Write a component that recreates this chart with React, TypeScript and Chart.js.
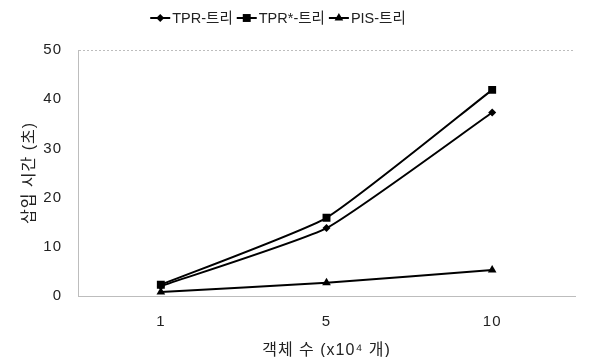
import React, { useEffect, useRef } from "react";
import { Chart, registerables } from "chart.js";

Chart.register(...registerables);

// Object counts (x10^4) on the category axis
const categories: string[] = ["1", "5", "10"];

// Insertion time in seconds per index structure
const tprTree: number[] = [2.0, 13.8, 37.3];
const tprStarTree: number[] = [2.3, 15.9, 41.9];
const pisTree: number[] = [0.8, 2.7, 5.3];

const seriesNames: string[] = ["TPR-트리", "TPR*-트리", "PIS-트리"];

const Y_MAX = 50;
const Y_STEP = 10;

const FONT_FAMILY = "'Liberation Sans', Arial, 'Noto Sans CJK KR', sans-serif";
const TEXT_COLOR = "#222";
const FRAME_COLOR = "#bdbdbd";

type Marker = "rectRot" | "rect" | "triangle";

function drawMarker(ctx: CanvasRenderingContext2D, kind: Marker, x: number, y: number, r: number) {
  ctx.beginPath();
  if (kind === "rectRot") {
    ctx.moveTo(x - r, y);
    ctx.lineTo(x, y - r);
    ctx.lineTo(x + r, y);
    ctx.lineTo(x, y + r);
  } else if (kind === "rect") {
    const s = r * Math.SQRT1_2;
    ctx.rect(x - s, y - s, 2 * s, 2 * s);
  } else {
    ctx.moveTo(x, y - r);
    ctx.lineTo(x + r * 0.866, y + r / 2);
    ctx.lineTo(x - r * 0.866, y + r / 2);
  }
  ctx.closePath();
  ctx.fill();
}

// Legend drawn as line + marker + label, centred on a fixed x position
const lineLegend = {
  id: "lineLegend",
  afterDraw(chart: any, _args: any, opts: any) {
    const ctx: CanvasRenderingContext2D = chart.ctx;
    const datasets = chart.data.datasets;
    ctx.save();
    (ctx as any).letterSpacing = "0px";
    ctx.font = `${opts.fontSize}px ${FONT_FAMILY}`;
    ctx.textBaseline = "middle";
    ctx.textAlign = "left";
    const sampleW = opts.sampleWidth;
    const gapText = opts.gapText;
    const gapItem = opts.gapItem;
    const widths = datasets.map((d: any) => sampleW + gapText + ctx.measureText(d.label).width);
    const total = widths.reduce((a: number, b: number) => a + b, 0) + gapItem * (datasets.length - 1);
    let x = opts.centerX - total / 2;
    const y = opts.y;
    datasets.forEach((d: any, i: number) => {
      ctx.strokeStyle = d.borderColor;
      ctx.fillStyle = d.pointBackgroundColor;
      ctx.lineWidth = d.borderWidth;
      ctx.beginPath();
      ctx.moveTo(x, y);
      ctx.lineTo(x + sampleW, y);
      ctx.stroke();
      drawMarker(ctx, d.pointStyle, x + sampleW / 2, y, d.pointRadius);
      ctx.fillStyle = TEXT_COLOR;
      ctx.fillText(d.label, x + sampleW + gapText, y + 1);
      x += widths[i] + gapItem;
    });
    ctx.restore();
  },
};

// Slightly wider letter spacing for the axis text
const axisSpacing = {
  id: "axisSpacing",
  beforeDraw(chart: any) {
    (chart.ctx as any).letterSpacing = "1px";
  },
  afterDatasetsDraw(chart: any) {
    (chart.ctx as any).letterSpacing = "0px";
  },
};

export default function App() {
  const canvasRef = useRef<HTMLCanvasElement | null>(null);

  useEffect(() => {
    if (!canvasRef.current) return;
    const common = {
      borderColor: "#000",
      pointBackgroundColor: "#000",
      pointBorderColor: "#000",
      borderWidth: 2,
      pointBorderWidth: 0,
      tension: 0.15,
      fill: false,
    };
    const chart = new Chart(canvasRef.current, {
      type: "line",
      data: {
        labels: categories,
        datasets: [
          { ...common, label: seriesNames[0], data: tprTree, pointStyle: "rectRot", pointRadius: 4 },
          { ...common, label: seriesNames[1], data: tprStarTree, pointStyle: "rect", pointRadius: 5.6 },
          { ...common, label: seriesNames[2], data: pisTree, pointStyle: "triangle", pointRadius: 5 },
        ] as any,
      },
      options: {
        animation: false,
        responsive: true,
        maintainAspectRatio: false,
        layout: { padding: { top: 50, right: 36, bottom: 0, left: 0 } },
        plugins: {
          legend: { display: false },
          tooltip: { enabled: false },
          lineLegend: { centerX: 278, y: 18, fontSize: 14.5, sampleWidth: 20, gapText: 2, gapItem: 4 },
        } as any,
        scales: {
          x: {
            offset: true,
            grid: {
              offset: true,
              drawTicks: false,
              lineWidth: 1,
              color: (c: any) => (c.index === categories.length ? FRAME_COLOR : "rgba(0,0,0,0)"),
            },
            border: { display: true, color: FRAME_COLOR, dash: [3, 3] },
            ticks: {
              color: TEXT_COLOR,
              padding: 17,
              font: { family: FONT_FAMILY, size: 15 },
            },
            title: {
              display: true,
              text: "객체 수 (x10⁴ 개)",
              color: TEXT_COLOR,
              font: { family: FONT_FAMILY, size: 16 },
              padding: { top: 0, bottom: -3 },
            },
            afterFit: (s: any) => {
              s.height = 61;
            },
          },
          y: {
            min: 0,
            max: Y_MAX,
            ticks: {
              stepSize: Y_STEP,
              color: TEXT_COLOR,
              padding: 16,
              font: { family: FONT_FAMILY, size: 15 },
            },
            grid: {
              drawTicks: false,
              color: (c: any) => (c.tick && c.tick.value === Y_MAX ? FRAME_COLOR : "rgba(0,0,0,0)"),
            },
            border: { display: true, color: FRAME_COLOR, dash: [2, 2] },
            title: {
              display: true,
              text: "삽입 시간 (초)",
              color: TEXT_COLOR,
              font: { family: FONT_FAMILY, size: 16 },
              padding: { top: 20, bottom: 0 },
            },
            afterFit: (s: any) => {
              s.width = 78;
            },
          },
        },
      },
      plugins: [axisSpacing as any, lineLegend as any],
    });
    return () => chart.destroy();
  }, []);

  return (
    <div style={{ position: "fixed", left: 0, top: 0, width: 611, height: 357, background: "#fff" }}>
      <canvas ref={canvasRef} />
    </div>
  );
}
